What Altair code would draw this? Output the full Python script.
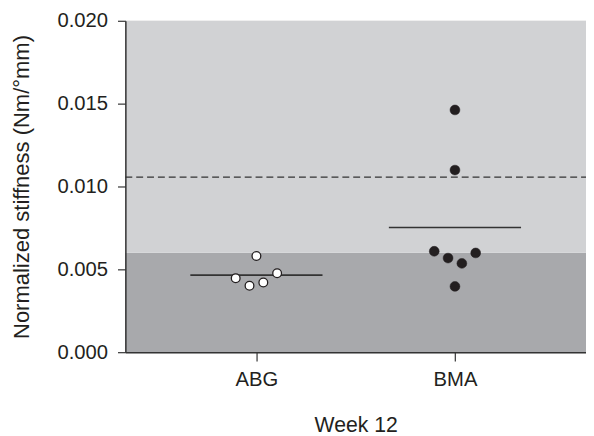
import altair as alt
import pandas as pd

groups = ["ABG", "BMA"]
abg_values = [0.00581, 0.00446, 0.00401, 0.00421, 0.00476]
abg_slots = [0, -3, -1, 1, 3]
bma_values = [0.01462, 0.01099, 0.00609, 0.00568, 0.00536, 0.00599, 0.00397]
bma_slots = [0, 0, -3, -1, 1, 3, 0]
band_edges = [0.0, 0.006, 0.020]
band_colors = ["#a8a9ac", "#d1d2d4"]
reference_line = [0.01056]
y_ticks = [0.0, 0.005, 0.010, 0.015, 0.020]

W, H = 467, 336
FONT = "Liberation Sans"
INK = "#231f20"

pts = pd.DataFrame({
    "group": [groups[0]] * len(abg_values) + [groups[1]] * len(bma_values),
    "value": abg_values + bma_values,
    "slot": abg_slots + bma_slots,
})
bands = pd.DataFrame({"lo": band_edges[:-1], "hi": band_edges[1:], "color": band_colors})
ref = pd.DataFrame({"y": reference_line})

yscale = alt.Scale(domain=[0, 0.02], nice=False, zero=True)
xscale = alt.Scale(type="point", domain=groups, padding=0.66)

xaxis = alt.Axis(title="Week 12", labelAngle=0, tickSize=9, labelPadding=9,
                 titlePadding=25, domainColor="#333333", tickColor="#333333",
                 domainWidth=1.5, tickWidth=1.2, labelFont=FONT, titleFont=FONT,
                 labelFontSize=20.5, titleFontSize=21.5, titleFontWeight="normal",
                 labelColor=INK, titleColor=INK, grid=False, zindex=1)
yaxis = alt.Axis(title="Normalized stiffness (Nm/°mm)", values=y_ticks, format=".3f",
                 tickSize=8, labelPadding=10, titlePadding=24, domainColor="#333333",
                 tickColor="#333333", domainWidth=1.5, tickWidth=1.2, labelFont=FONT,
                 titleFont=FONT, labelFontSize=20.5, titleFontSize=22.3,
                 titleFontWeight="normal", labelColor=INK, titleColor=INK,
                 grid=False, zindex=1)

bg = alt.Chart(bands).mark_rect().encode(
    y=alt.Y("lo:Q", scale=yscale, axis=yaxis),
    y2="hi:Q",
    x=alt.value(0), x2=alt.value(W),
    color=alt.Color("color:N", scale=None),
)

dash = alt.Chart(ref).mark_rule(color="#333333", strokeWidth=1.3, strokeDash=[7, 4]).encode(
    y=alt.Y("y:Q", scale=yscale), x=alt.value(0), x2=alt.value(W)
)

mean = alt.Chart(pts).mark_tick(color="#333333", size=134, thickness=1.6, orient="horizontal").encode(
    x=alt.X("group:N", scale=xscale, axis=xaxis),
    y=alt.Y("mean(value):Q", scale=yscale),
)

base = alt.Chart(pts).encode(
    x=alt.X("group:N", scale=xscale, axis=xaxis),
    xOffset=alt.XOffset("slot:Q", scale=alt.Scale(domain=[-3, 3], range=[-21, 21])),
    y=alt.Y("value:Q", scale=yscale),
)
abg = base.transform_filter(alt.datum.group == groups[0]).mark_point(
    shape="circle", filled=True, fill="white", stroke=INK, strokeWidth=1.3, size=78, opacity=1
)
bma = base.transform_filter(alt.datum.group == groups[1]).mark_point(
    shape="circle", filled=True, fill=INK, stroke=INK, strokeWidth=0.5, size=100, opacity=1
)

chart = alt.layer(bg, dash, mean, abg, bma).properties(
    width=W, height=H,
    autosize=alt.AutoSizeParams(type="none"),
    padding={"left": 119, "top": 10, "right": 0, "bottom": 82},
).configure_view(stroke=None).configure(background="white")

chart.save("out.html", embed_options={"renderer": "svg", "actions": False})
